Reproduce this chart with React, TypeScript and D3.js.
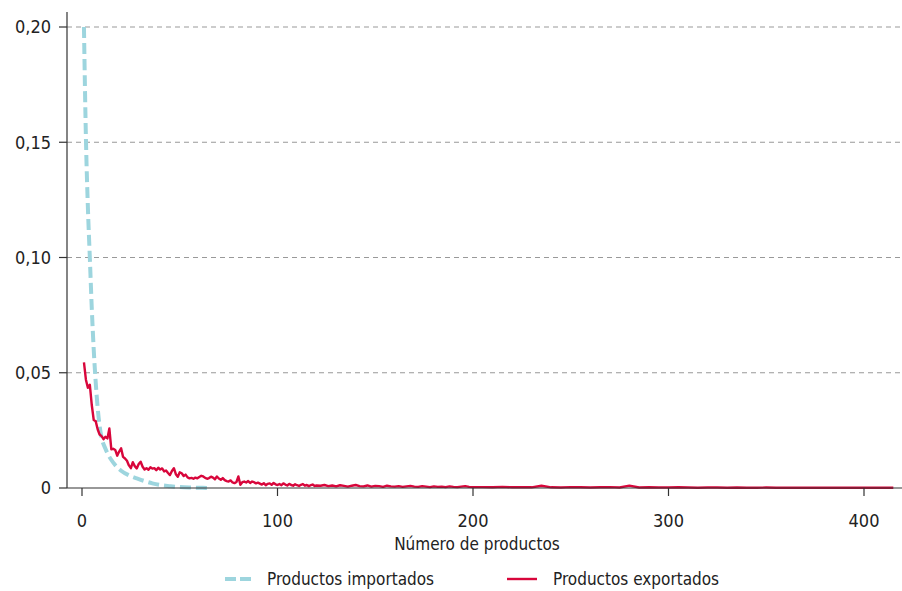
import React from "react";
import * as d3 from "d3";

const W = 902;
const H = 591;

const xTicks = [0, 100, 200, 300, 400];
const yTicks = [0, 0.05, 0.1, 0.15, 0.2];
const yTickLabels = ["0", "0,05", "0,10", "0,15", "0,20"];
const xLabel = "Número de productos";
const seriesNames = ["Productos importados", "Productos exportados"];

// Imported products (dashed)
const importX = [1, 2, 3, 4, 5, 6, 7, 8, 9, 10, 12, 14, 16, 18, 20, 24, 28, 32, 36, 40, 45, 50, 55, 60, 64];
const importY = [0.2, 0.152, 0.122, 0.1, 0.078, 0.06, 0.046, 0.035, 0.027, 0.022, 0.017, 0.0135, 0.011, 0.009, 0.0075, 0.0055, 0.0042, 0.003, 0.002, 0.0013, 0.0008, 0.0004, 0.0002, 0.0001, 0];

// Exported products (solid)
const exportY1 = [
  0.0545, 0.047, 0.0435, 0.0448, 0.036, 0.0295, 0.029, 0.0255, 0.0232, 0.0225,
  0.0212, 0.0222, 0.0215, 0.0258, 0.0168, 0.017, 0.0165, 0.014, 0.0158, 0.0172,
  0.0135, 0.0128, 0.0118, 0.0098, 0.0086, 0.0112, 0.0095, 0.0085, 0.0104, 0.0114,
  0.0092, 0.008, 0.0086, 0.0079, 0.009, 0.0084, 0.0086, 0.0077, 0.0088, 0.008,
  0.0085, 0.0072, 0.0076, 0.0065, 0.0056, 0.0074, 0.0086, 0.006, 0.0049, 0.0068,
  0.0064, 0.0052, 0.0058, 0.0046, 0.0042, 0.0044, 0.004, 0.0045, 0.0042, 0.0048,
  0.0053, 0.005, 0.0044, 0.004, 0.0043, 0.0049, 0.0045, 0.0038, 0.005, 0.0041,
  0.0036, 0.0043, 0.0034, 0.003, 0.0028, 0.0033, 0.0024, 0.0021, 0.0026, 0.005,
  0.0014, 0.0025, 0.0028, 0.0024, 0.003, 0.0022, 0.0028, 0.0025, 0.002, 0.0023,
  0.0019, 0.0015, 0.0021, 0.0012, 0.0018, 0.002, 0.0014, 0.0022, 0.0016, 0.0013,
  0.0017, 0.0012, 0.002, 0.0015, 0.0011, 0.0018, 0.0013, 0.001, 0.0016, 0.0012,
  0.0009, 0.0014, 0.0017, 0.001, 0.0013, 0.0008, 0.0012, 0.0015, 0.0009, 0.0011,
]; // x = 1..120
const exportY2 = [
  0.001, 0.0013, 0.0008, 0.0011, 0.0007, 0.0012, 0.0009, 0.0006, 0.001, 0.0013,
  0.0008, 0.0007, 0.0011, 0.0006, 0.0009, 0.0008, 0.0005, 0.001, 0.0007, 0.0006,
  0.0008, 0.0005, 0.0007, 0.0009, 0.0006, 0.0005, 0.0008, 0.0006, 0.0004, 0.0007,
  0.0005, 0.0006, 0.0004, 0.0007, 0.0005, 0.0004, 0.0006, 0.0008, 0.0005, 0.0004,
]; // x = 122..200 step 2
const exportY3 = [
  0.0004, 0.0003, 0.0005, 0.0003, 0.0004, 0.0003, 0.001, 0.0003, 0.0002, 0.0004,
  0.0003, 0.0002, 0.0003, 0.0004, 0.0002, 0.001, 0.0002, 0.0003, 0.0002, 0.0002,
  0.0003, 0.0002, 0.0001, 0.0002, 0.0002, 0.0001, 0.0002, 0.0001, 0.0001, 0.0002,
  0.0001, 0.0001, 0.0001, 0.0001, 0.0001, 0.0001, 0.0001, 0.0001, 0.0001, 0.0001,
  0.0001, 0.0001, 0.0001,
]; // x = 205..415 step 5

const importColor = "#9dd5de";
const exportColor = "#d8063b";
const FONT = "'Liberation Sans Narrow', 'DejaVu Sans Condensed', 'Roboto', sans-serif";

export default function App() {
  const x = d3.scaleLinear().domain([0, 400]).range([82, 864]);
  const y = d3.scaleLinear().domain([0, 0.2]).range([488, 27]);
  const left = 67;
  const right = 902;

  const importData: [number, number][] = importX.map((v, i) => [v, importY[i]]);
  const exportData: [number, number][] = [
    ...exportY1.map((v, i) => [1 + i, v] as [number, number]),
    ...exportY2.map((v, i) => [122 + 2 * i, v] as [number, number]),
    ...exportY3.map((v, i) => [205 + 5 * i, v] as [number, number]),
  ];

  const importLine = d3
    .line<[number, number]>()
    .x((d) => x(d[0]))
    .y((d) => y(d[1]))
    .curve(d3.curveMonotoneX);
  const exportLine = d3
    .line<[number, number]>()
    .x((d) => x(d[0]))
    .y((d) => y(d[1]));

  return (
    <svg
      width={W}
      height={H}
      style={{ position: "absolute", left: 0, top: 0, background: "#fff" }}
      fontFamily={FONT}
    >
      {yTicks.slice(1).map((t) => (
        <line
          key={"g" + t}
          x1={left}
          x2={right}
          y1={y(t)}
          y2={y(t)}
          stroke="#999"
          strokeWidth={1.2}
          strokeDasharray="5,4"
        />
      ))}
      <path
        d={importLine(importData) || ""}
        fill="none"
        stroke={importColor}
        strokeWidth={4}
        strokeDasharray="11,5"
      />
      <path
        d={exportLine(exportData) || ""}
        fill="none"
        stroke={exportColor}
        strokeWidth={2.4}
        strokeLinejoin="round"
      />
      <line x1={left} x2={left} y1={12} y2={488} stroke="#333" strokeWidth={1.2} />
      <line x1={left} x2={right} y1={488} y2={488} stroke="#333" strokeWidth={1.2} />
      {yTicks.map((t, i) => (
        <g key={"y" + t}>
          <line x1={left - 8} x2={left} y1={y(t)} y2={y(t)} stroke="#333" strokeWidth={1.2} />
          <text x={51} y={y(t)} dy="0.35em" textAnchor="end" fontSize={18} fill="#222">
            {yTickLabels[i]}
          </text>
        </g>
      ))}
      {xTicks.map((t) => (
        <g key={"x" + t}>
          <line x1={x(t)} x2={x(t)} y1={488} y2={496} stroke="#333" strokeWidth={1.2} />
          <text x={x(t)} y={527} textAnchor="middle" fontSize={18} fill="#222">
            {t}
          </text>
        </g>
      ))}
      <text x={477} y={550} textAnchor="middle" fontSize={17} fill="#222">
        {xLabel}
      </text>
      <line x1={225} x2={251} y1={579} y2={579} stroke={importColor} strokeWidth={4} strokeDasharray="11,4" />
      <text x={267} y={585} fontSize={17} fill="#222">
        {seriesNames[0]}
      </text>
      <line x1={507} x2={537} y1={579} y2={579} stroke={exportColor} strokeWidth={2.4} />
      <text x={553} y={585} fontSize={17} fill="#222">
        {seriesNames[1]}
      </text>
    </svg>
  );
}
